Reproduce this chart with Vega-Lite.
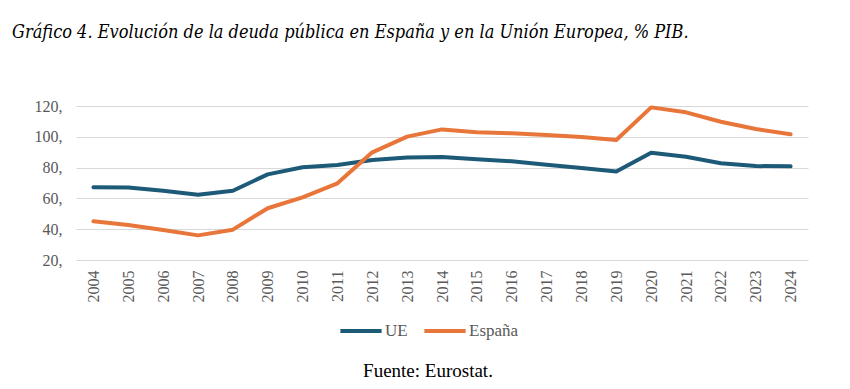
{
  "$schema": "https://vega.github.io/schema/vega-lite/v6.json",
  "autosize": {"type": "none"},
  "width": 732,
  "height": 154,
  "padding": {"left": 76, "top": 106, "right": 42, "bottom": 129},
  "background": "white",
  "title": {
    "text": "Gráfico 4. Evolución de la deuda pública en España y en la Unión Europea, % PIB.",
    "anchor": "start",
    "frame": "group",
    "dx": -64,
    "offset": 56,
    "font": "DejaVu Serif Condensed",
    "fontStyle": "italic",
    "fontWeight": "normal",
    "fontSize": 18,
    "color": "#000000"
  },
  "data": {
    "values": [
      {"year": "2004", "serie": "UE", "value": 67.2},
      {"year": "2005", "serie": "UE", "value": 67.1},
      {"year": "2006", "serie": "UE", "value": 65.0},
      {"year": "2007", "serie": "UE", "value": 62.4},
      {"year": "2008", "serie": "UE", "value": 65.0},
      {"year": "2009", "serie": "UE", "value": 75.6},
      {"year": "2010", "serie": "UE", "value": 80.2},
      {"year": "2011", "serie": "UE", "value": 81.7},
      {"year": "2012", "serie": "UE", "value": 85.0},
      {"year": "2013", "serie": "UE", "value": 86.5},
      {"year": "2014", "serie": "UE", "value": 86.9},
      {"year": "2015", "serie": "UE", "value": 85.4},
      {"year": "2016", "serie": "UE", "value": 84.1},
      {"year": "2017", "serie": "UE", "value": 81.9},
      {"year": "2018", "serie": "UE", "value": 79.7},
      {"year": "2019", "serie": "UE", "value": 77.4},
      {"year": "2020", "serie": "UE", "value": 89.7},
      {"year": "2021", "serie": "UE", "value": 87.1},
      {"year": "2022", "serie": "UE", "value": 82.8},
      {"year": "2023", "serie": "UE", "value": 81.0},
      {"year": "2024", "serie": "UE", "value": 80.8},
      {"year": "2004", "serie": "España", "value": 45.1},
      {"year": "2005", "serie": "España", "value": 42.7},
      {"year": "2006", "serie": "España", "value": 39.5},
      {"year": "2007", "serie": "España", "value": 36.0},
      {"year": "2008", "serie": "España", "value": 39.7},
      {"year": "2009", "serie": "España", "value": 53.6},
      {"year": "2010", "serie": "España", "value": 60.7},
      {"year": "2011", "serie": "España", "value": 69.8},
      {"year": "2012", "serie": "España", "value": 89.9},
      {"year": "2013", "serie": "España", "value": 100.1},
      {"year": "2014", "serie": "España", "value": 104.8},
      {"year": "2015", "serie": "España", "value": 102.9},
      {"year": "2016", "serie": "España", "value": 102.3},
      {"year": "2017", "serie": "España", "value": 101.2},
      {"year": "2018", "serie": "España", "value": 99.9},
      {"year": "2019", "serie": "España", "value": 97.9},
      {"year": "2020", "serie": "España", "value": 119.1},
      {"year": "2021", "serie": "España", "value": 115.9},
      {"year": "2022", "serie": "España", "value": 109.8},
      {"year": "2023", "serie": "España", "value": 105.1},
      {"year": "2024", "serie": "España", "value": 101.6}
    ]
  },
  "mark": {"type": "line", "strokeWidth": 4, "strokeCap": "round", "strokeJoin": "round"},
  "encoding": {
    "x": {
      "field": "year",
      "type": "ordinal",
      "scale": {"type": "point", "padding": 0.5},
      "axis": {
        "title": null,
        "labelAngle": -90,
        "labelAlign": "right",
        "labelBaseline": "middle",
        "labelPadding": 10,
        "labelFont": "Liberation Serif",
        "labelFontSize": 16,
        "labelColor": "#595959",
        "domain": false,
        "ticks": false,
        "grid": false
      }
    },
    "y": {
      "field": "value",
      "type": "quantitative",
      "scale": {"domain": [20, 120], "nice": false, "zero": false},
      "axis": {
        "title": null,
        "values": [20, 40, 60, 80, 100, 120],
        "labelExpr": "datum.label + ','",
        "labelFont": "Liberation Serif",
        "labelFontSize": 16,
        "labelColor": "#595959",
        "labelPadding": 14,
        "domain": false,
        "ticks": false,
        "grid": true,
        "gridColor": "#d9d9d9",
        "gridWidth": 1
      }
    },
    "color": {
      "field": "serie",
      "type": "nominal",
      "sort": ["UE", "España"],
      "scale": {"domain": ["UE", "España"], "range": ["#1d5a78", "#e8763a"]},
      "legend": {
        "title": "Fuente: Eurostat.",
        "orient": "none",
        "legendX": 262,
        "legendY": 202,
        "direction": "horizontal",
        "titleOrient": "bottom",
        "titleAnchor": "middle",
        "titleFont": "Liberation Serif",
        "titleFontSize": 19,
        "titleFontWeight": "normal",
        "titleColor": "#000000",
        "titlePadding": 23,
        "labelFont": "Liberation Serif",
        "labelFontSize": 17,
        "labelColor": "#595959",
        "labelOffset": 1,
        "symbolType": "stroke",
        "symbolSize": 1700,
        "symbolStrokeWidth": 4,
        "columnPadding": 8
      }
    }
  },
  "config": {
    "view": {"stroke": null}
  }
}
